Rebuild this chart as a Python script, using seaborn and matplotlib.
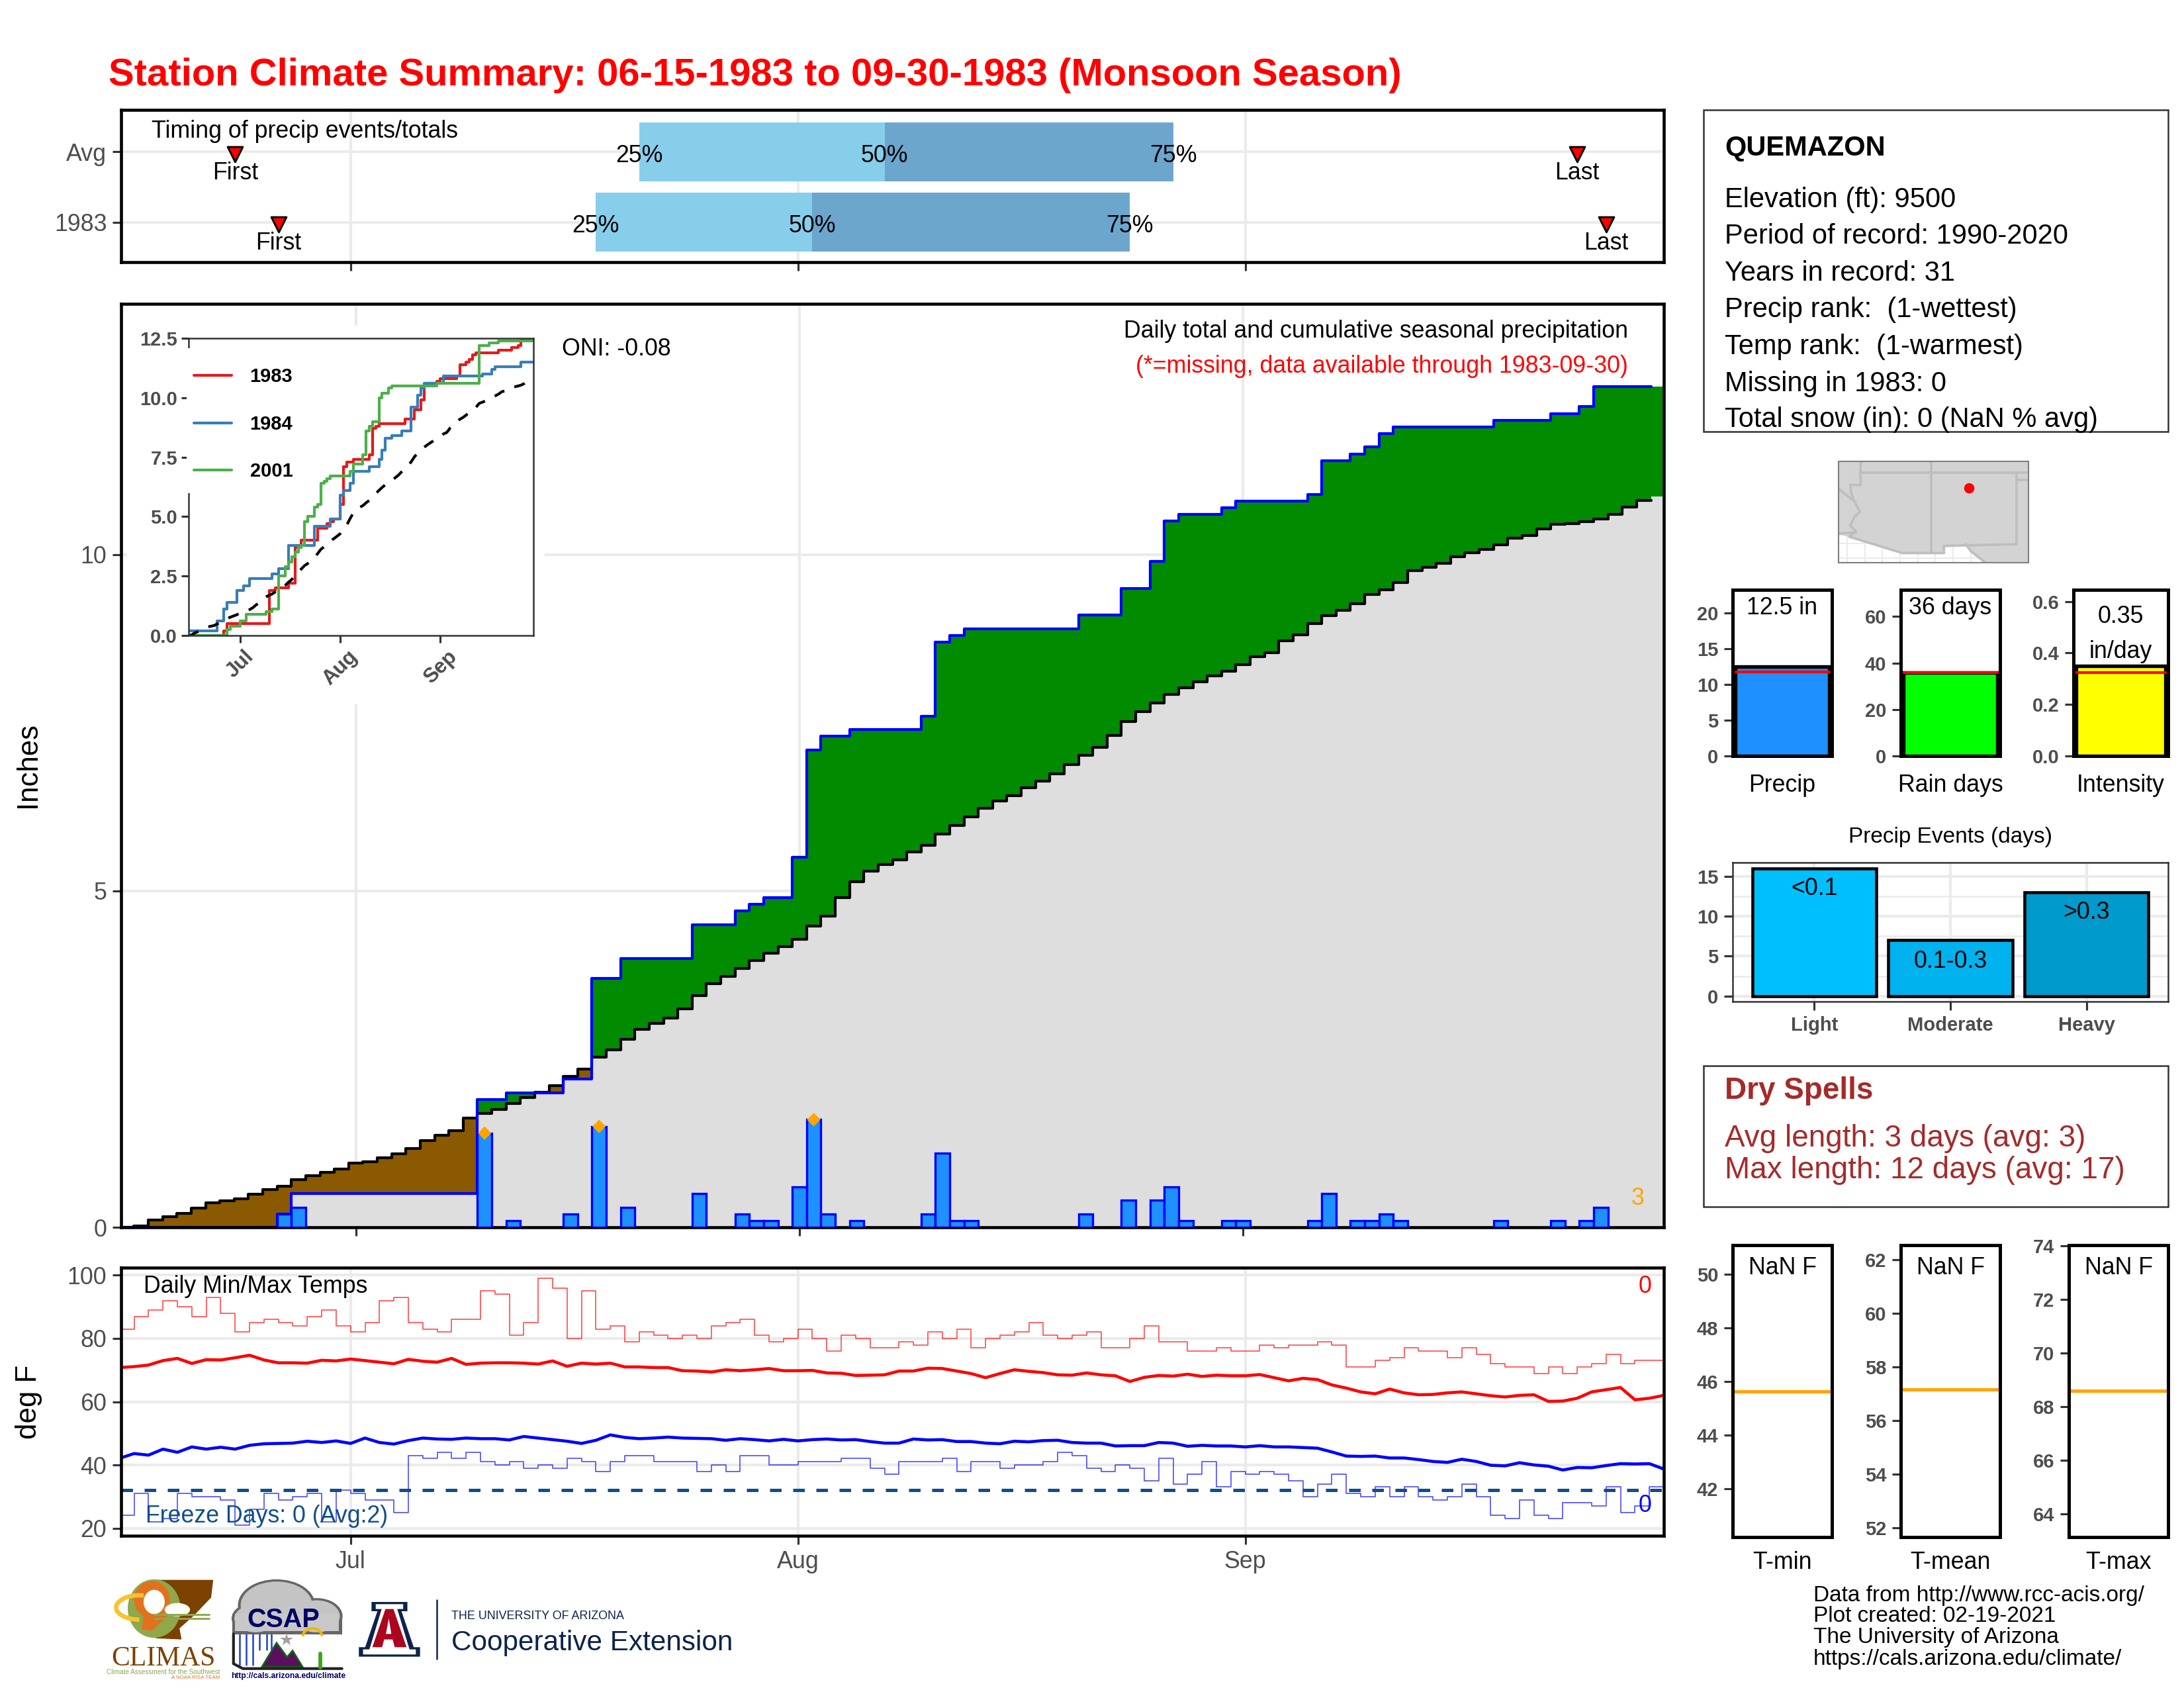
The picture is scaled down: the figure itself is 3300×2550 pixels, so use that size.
import numpy as np
import matplotlib
matplotlib.use('Agg')
import matplotlib.pyplot as plt
from matplotlib.patches import Rectangle, Polygon, Ellipse, Arc
import seaborn as sns

W, H = 3300, 2550

# day index: 0 = Jun 15, 16 = Jul 1, 47 = Aug 1, 78 = Sep 1, 107 = Sep 30
month_days = [16, 47, 78]
month_names = ['Jul', 'Aug', 'Sep']
days = np.arange(108)

# daily precip for 1983
rain_day = [11, 12, 25, 27, 31, 33, 35, 40, 43, 44, 45, 47, 48, 49, 51, 56, 57, 58, 59, 67, 70, 72, 73, 74,
            77, 78, 83, 84, 86, 87, 88, 89, 96, 100, 102, 103]
rain_amt = [0.2, 0.3, 1.4, 0.1, 0.2, 1.5, 0.3, 0.5, 0.2, 0.1, 0.1, 0.6, 1.6, 0.2, 0.1, 0.2, 1.1, 0.1, 0.1, 0.2,
            0.4, 0.4, 0.6, 0.1, 0.1, 0.1, 0.1, 0.5, 0.1, 0.1, 0.2, 0.1, 0.1, 0.1, 0.1, 0.3]
heavy_day = [25, 33, 48]
heavy_amt = [1.4, 1.5, 1.6]

# long term average cumulative precip, one value per day
avg_cum = [0.0, 0.02, 0.11, 0.16, 0.21, 0.29, 0.36, 0.39, 0.42, 0.49, 0.56, 0.61, 0.71, 0.77, 0.82, 0.87, 0.95, 0.97,
           1.03, 1.09, 1.17, 1.29, 1.37, 1.44, 1.62, 1.69, 1.75, 1.84, 1.93, 2.01, 2.11, 2.24, 2.35, 2.53, 2.64, 2.80,
           2.94, 3.03, 3.11, 3.25, 3.44, 3.62, 3.73, 3.85, 3.97, 4.07, 4.17, 4.28, 4.48, 4.63, 4.90, 5.14, 5.30, 5.39,
           5.46, 5.58, 5.68, 5.85, 5.97, 6.10, 6.23, 6.34, 6.42, 6.54, 6.63, 6.74, 6.88, 7.02, 7.14, 7.31, 7.52, 7.67,
           7.80, 7.92, 8.02, 8.11, 8.20, 8.27, 8.37, 8.48, 8.54, 8.72, 8.81, 8.98, 9.09, 9.17, 9.27, 9.41, 9.48, 9.59,
           9.76, 9.81, 9.87, 9.97, 10.03, 10.08, 10.15, 10.25, 10.29, 10.38, 10.45, 10.46, 10.49, 10.53, 10.60, 10.71,
           10.81, 10.87]

# other years in the inset
y1984_day = [0, 9, 11, 12, 15, 17, 19, 26, 28, 31, 39, 44, 47, 48, 50, 51, 56, 59, 60, 61, 63, 66, 69, 71, 72, 73,
             79, 91, 94, 95, 103, 107]
y1984_val = [0.2, 0.6, 1.1, 1.4, 1.9, 2.1, 2.4, 2.6, 2.8, 3.8, 4.6, 4.9, 5.9, 6.1, 6.4, 6.9, 7.1, 7.4, 7.8, 8.3, 8.4,
             8.6, 9.6, 10.1, 10.4, 10.6, 10.9, 11.0, 11.2, 11.3, 11.5, 11.5]
y2001_day = [0, 12, 13, 16, 18, 24, 26, 28, 30, 31, 32, 33, 34, 35, 36, 37, 39, 40, 41, 42, 43, 44, 50, 51, 54, 55,
             56, 57, 59, 60, 62, 63, 77, 90, 93, 96, 107]
y2001_val = [0.0, 0.25, 0.4, 0.6, 0.9, 1.0, 1.1, 2.5, 2.9, 3.1, 3.3, 3.5, 3.7, 3.8, 4.8, 5.0, 5.4, 5.5, 6.4, 6.5, 6.6,
             6.7, 6.9, 7.2, 7.6, 8.6, 8.8, 9.0, 10.0, 10.2, 10.4, 10.5, 10.6, 12.2, 12.3, 12.4, 12.4]

# daily temps 1983
tmax_obs = [83, 87, 89, 92, 90, 87, 93, 88, 82, 85, 86, 85, 84, 87, 89, 84, 82, 85, 92, 93, 85, 83, 82, 86, 86, 95, 94,
            81, 85, 99, 96, 80, 95, 83, 84, 79, 82, 81, 80, 81, 80, 84, 85, 86, 81, 79, 80, 83, 80, 76, 81, 80, 77, 77,
            79, 78, 82, 80, 83, 77, 80, 81, 82, 85, 81, 80, 81, 82, 77, 77, 80, 84, 79, 79, 76, 76, 77, 76, 76, 78, 77,
            78, 78, 79, 78, 71, 71, 73, 74, 77, 76, 76, 74, 77, 75, 72, 71, 71, 69, 71, 69, 71, 72, 75, 72, 73, 73]
tmin_obs = [24, 31, 22, 23, 31, 30, 30, 29, 21, 26, 31, 29, 30, 31, 22, 32, 31, 29, 29, 25, 43, 42, 44, 42, 44, 41, 40,
            41, 39, 40, 39, 42, 41, 38, 41, 43, 43, 41, 41, 41, 38, 40, 38, 43, 43, 40, 40, 41, 41, 41, 42, 42, 39, 37,
            41, 41, 41, 42, 38, 41, 41, 39, 40, 40, 41, 44, 43, 39, 38, 40, 39, 35, 42, 34, 37, 41, 33, 38, 37, 38, 37,
            35, 30, 34, 37, 31, 30, 33, 30, 33, 30, 29, 30, 34, 30, 24, 23, 29, 24, 23, 28, 28, 27, 33, 25, 27, 33]
# average temps
tmax_avg = [70.8, 71.1, 71.6, 73, 73.7, 72.1, 73.3, 73.2, 73.9, 74.7, 73.2, 72.3, 72.3, 72.2, 73.1, 72.9, 73.5, 73,
            72.5, 72, 73.4, 72.8, 72.5, 73.7, 71.8, 72.2, 72.3, 72.3, 72.2, 71.9, 72.9, 71.2, 72.2, 71.9, 72.2, 71, 71,
            70.8, 70.8, 69.8, 69.7, 69.4, 70.1, 69.8, 70.1, 70.5, 69.8, 69.8, 69.9, 69.1, 69, 68.3, 68.4, 68.5, 69.7,
            69.7, 70.6, 70.5, 69.7, 68.9, 67.6, 68.9, 70.1, 69.6, 69.2, 68.5, 68.4, 69.1, 68.5, 68.2, 66.4, 67.7, 68.3,
            68.1, 68.7, 68, 68.4, 68.2, 68.2, 68.6, 67.6, 66.6, 67.4, 67, 65.3, 64.3, 63.1, 62.5, 64, 62.8, 62.2, 62.3,
            62.8, 63.1, 62.5, 61.9, 61.5, 62, 62.2, 60.1, 60.2, 61.1, 63.1, 63.8, 64.5, 60.6, 61.1, 62]
tmin_avg = [42.1, 43.6, 43.1, 45, 44, 45.7, 45, 45.6, 45, 46.2, 46.7, 46.8, 46.9, 47.5, 47.1, 47.6, 46.8, 48.5, 47.1,
            46.6, 47.7, 48.5, 48.2, 48.1, 48.5, 48.3, 48.3, 47.9, 49, 48.5, 48, 47.5, 46.8, 47.8, 49.5, 48.7, 48.3, 48.5,
            48.8, 48.5, 48.4, 48.3, 47.8, 48.3, 48, 47.6, 48.1, 47.6, 48, 48.2, 47.9, 48, 47.4, 46.9, 46.9, 48.2, 47.9,
            48, 47.4, 47.4, 46.9, 46.7, 47.5, 47.3, 47.7, 47.8, 47.1, 46.9, 46.9, 46, 46.1, 46.1, 47.1, 46.9, 45.9, 46.2,
            46, 46, 45.7, 46.1, 45.7, 45.7, 45.5, 45.3, 44.1, 42.8, 42.7, 42.8, 42.2, 42.2, 41.7, 41.1, 40.8, 41.8, 41.1,
            39.9, 39.7, 40.7, 40, 39.6, 38.4, 39.2, 39.1, 39.8, 40.4, 40.3, 40.4, 38.7]
temp_ticks = [20, 40, 60, 80, 100]
freeze_line = 32

# timing panel
timing_rows = ['Avg', '1983']
q25 = [36, 33]
q50 = [53, 48]
q75 = [73, 70]
first_day = [8, 11]
last_day = [101, 103]

# right hand bars
season_names = ['Precip', 'Rain days', 'Intensity']
season_vals = [12.5, 36, 0.35]
season_avgs = [11.7, 36, 0.325]
season_colors = ['#1E90FF', '#00FF00', '#FFFF00']
event_names = ['Light', 'Moderate', 'Heavy']
event_vals = [16, 7, 13]
event_colors = ['#00BFFF', '#00B2EE', '#009ACD']
event_tags = ['<0.1', '0.1-0.3', '>0.3']
temp_names = ['T-min', 'T-mean', 'T-max']
temp_avgs = [45.62, 57.16, 68.6]

# location map outlines, lon/lat
land_lon = [-115.6, -114.83, -111.09, -108.14, -108.14, -106.6, -106.22, -105.2, -102.16, -102.16, -115.6]
land_lat = [32.62, 32.48, 31.33, 31.33, 31.83, 31.87, 31.45, 30.65, 30.65, 37.8, 37.8]
map_borders = [
    ([-114.04, -102.16], [37.0, 37.0]),
    ([-114.04, -114.04, -114.76, -114.72, -114.54, -114.08, -114.49, -114.76, -114.38, -114.83],
     [37.8, 36.12, 36.15, 35.62, 35.08, 34.25, 33.87, 33.28, 32.87, 32.48]),
    ([-115.6, -114.54], [35.87, 35.03]),
    ([-115.6, -114.38], [32.7, 32.78]),
    ([-114.83, -111.09, -108.14, -108.14, -106.6, -103.0], [32.48, 31.33, 31.33, 31.83, 31.87, 31.95]),
    ([-109.05, -109.05], [37.8, 31.33]),
    ([-103.0, -103.0], [37.0, 31.95]),
    ([-103.0, -102.16], [36.5, 36.5]),
    ([-106.6, -106.22, -105.2], [31.95, 31.45, 30.65]),
]
station_lon = [-106.35]
station_lat = [35.9]

sns.set_theme(style='white')
plt.rcParams['font.family'] = ['Liberation Sans', 'DejaVu Sans']
plt.rcParams['axes.unicode_minus'] = False

fig = plt.figure(figsize=(11, 8.5), dpi=300, facecolor='white')
GRID = '#EBEBEB'
TXT = 8.6
VC = 'center_baseline'


def panel(x0, y0, x1, y1, lw=1.1, edge='black'):
    ax = fig.add_axes([x0 / W, 1 - y1 / H, (x1 - x0) / W, (y1 - y0) / H])
    for s in ax.spines.values():
        s.set_visible(True)
        s.set_linewidth(lw)
        s.set_color(edge)
    ax.set_facecolor('white')
    ax.set_axisbelow(True)
    ax.tick_params(length=3.2, width=0.75, color='#333333', labelcolor='#4D4D4D', labelsize=TXT, pad=2,
                   left=True, bottom=True)
    return ax


def step_xy(d, v):
    d = np.asarray(d, dtype=float)
    v = np.asarray(v, dtype=float)
    return np.append(d - 0.5, d[-1] + 0.5), np.append(v, v[-1])


daily = np.zeros(108)
daily[rain_day] = rain_amt
obs_cum = np.cumsum(daily)
avg_arr = np.array(avg_cum)

# ---- timing panel
ax = panel(183, 166, 2514, 396)
ax.grid(True, color=GRID, lw=1.0)
rows = np.arange(2)
ax.barh(rows, np.array(q50) - np.array(q25), left=q25, height=0.835, color='#87CEEB', edgecolor='none', lw=0)
ax.barh(rows, np.array(q75) - np.array(q50), left=q50, height=0.835, color='#6CA6CD', edgecolor='none', lw=0)
sns.scatterplot(x=first_day + last_day, y=[0.03, 1.03, 0.03, 1.03], marker='v', color='red', edgecolor='black',
                linewidth=0.7, s=30, ax=ax, zorder=4, legend=False)
for i in rows:
    for q, lab in zip((q25, q50, q75), ('25%', '50%', '75%')):
        ax.text(q[i], i + 0.02, lab, ha='center', va=VC, fontsize=TXT, color='black')
    ax.text(first_day[i], i + 0.26, 'First', ha='center', va=VC, fontsize=TXT, color='black')
    ax.text(last_day[i], i + 0.26, 'Last', ha='center', va=VC, fontsize=TXT, color='black')
ax.text(2.2, -0.33, 'Timing of precip events/totals', ha='left', va=VC, fontsize=TXT, color='black')
ax.set_xlim(0.1, 107)
ax.set_ylim(1.565, -0.595)
ax.set_xticks(month_days)
ax.set_xticklabels([])
ax.set_yticks(rows)
ax.set_yticklabels(timing_rows)

# ---- main panel
ax = panel(183, 459, 2514, 1854)
edges = np.append(days - 0.5, days[-1] + 0.5)
xf = np.repeat(edges, 2)[1:-1]
obs_f = np.repeat(obs_cum, 2)
avg_f = np.repeat(avg_arr, 2)
ax.fill_between(xf, 0, np.minimum(obs_f, avg_f), color='#DEDEDE', lw=0)
ax.fill_between(xf, avg_f, np.maximum(obs_f, avg_f), color='#008B00', lw=0)
ax.fill_between(xf, obs_f, np.maximum(obs_f, avg_f), color='#8B5A00', lw=0, where=avg_f > obs_f)
sx, sy = step_xy(days[:107], avg_arr[:107])
sns.lineplot(x=sx, y=sy, drawstyle='steps-post', color='black', lw=1.0, estimator=None, ax=ax)
sx, sy = step_xy(days[:107], obs_cum[:107])
sns.lineplot(x=sx, y=sy, drawstyle='steps-post', color='blue', lw=1.0, estimator=None, ax=ax)
sns.barplot(x=rain_day, y=rain_amt, native_scale=True, width=1.0, color='#1E90FF', saturation=1, edgecolor='blue',
            linewidth=0.8, errorbar=None, ax=ax, zorder=3)
sns.scatterplot(x=heavy_day, y=heavy_amt, marker='D', color='orange', edgecolor='none', s=12, ax=ax, zorder=5,
                legend=False)
ax.text(105.6, 0.47, '3', color='orange', fontsize=TXT, ha='center', va=VC)
ax.text(30.4, 13.1, 'ONI: -0.08', color='black', fontsize=TXT, ha='left', va=VC)
ax.text(104.9, 13.36, 'Daily total and cumulative seasonal precipitation', color='black', fontsize=TXT, ha='right',
        va=VC)
ax.text(104.9, 12.84, '(*=missing, data available through 1983-09-30)', color='red', fontsize=TXT, ha='right', va=VC)
ax.set_xlim(-0.4, 107.4)
ax.set_ylim(0, 13.73)
ax.set_xticks(month_days)
ax.set_xticklabels([])
ax.set_yticks([0, 5, 10])
ax.set_yticklabels(['0', '5', '10'])
ax.grid(True, color=GRID, lw=1.0)
ax.set_xlabel('')
ax.set_ylabel('')

# ---- white backing and inset
back = fig.add_axes([192 / W, 1 - 1064 / H, (823 - 192) / W, (1064 - 492) / H])
back.set_facecolor('white')
back.set_xticks([])
back.set_yticks([])
for s in back.spines.values():
    s.set_visible(False)

ins = panel(285, 511, 806, 960, lw=0.6, edge='#333333')
sns.lineplot(x=days, y=obs_cum, drawstyle='steps-post', color='#E41A1C', lw=1.0, label='1983', estimator=None, ax=ins)
sns.lineplot(x=y1984_day, y=y1984_val, drawstyle='steps-post', color='#377EB8', lw=1.0, label='1984', estimator=None,
             ax=ins)
sns.lineplot(x=y2001_day, y=y2001_val, drawstyle='steps-post', color='#4DAF4A', lw=1.0, label='2001', estimator=None,
             ax=ins)
sns.lineplot(x=days, y=avg_arr, color='black', lw=1.0, linestyle=(0, (4, 4)), estimator=None, ax=ins)
ins.set_xlim(0.1, 106.8)
ins.set_ylim(0, 12.5)
ins.set_xticks(month_days)
ins.set_xticklabels(month_names, rotation=45, ha='center', fontweight='bold', fontsize=7.5)
ins.set_yticks([0, 2.5, 5, 7.5, 10, 12.5])
ins.set_yticklabels(['0.0', '2.5', '5.0', '7.5', '10.0', '12.5'], fontweight='bold', fontsize=7)
ins.tick_params(length=2.6, pad=1.5)
ins.set_xlabel('')
ins.set_ylabel('')
ins.add_patch(Rectangle((-0.006, 0.479), 0.012, 0.488, transform=ins.transAxes, facecolor='white', edgecolor='none',
                        zorder=4, clip_on=False))
leg = ins.legend(loc='upper left', bbox_to_anchor=((293 - 285) / 521, 1 - (555 - 511) / 449), frameon=False,
                 borderaxespad=0, borderpad=0, fontsize=7, labelspacing=1.5, handlelength=1.95, handletextpad=0.95,
                 prop={'weight': 'bold', 'size': 7})
for t in leg.get_texts():
    t.set_color('black')

# ---- temp panel
ax = panel(183, 1915, 2514, 2320)
ax.grid(True, color=GRID, lw=1.0)
thin_x = np.arange(108)
sns.lineplot(x=thin_x, y=tmax_obs + [tmax_obs[-1]], drawstyle='steps-post', color='red', lw=0.4, alpha=0.7,
             estimator=None, ax=ax)
sns.lineplot(x=thin_x, y=tmin_obs + [tmin_obs[-1]], drawstyle='steps-post', color='blue', lw=0.4, alpha=0.7,
             estimator=None, ax=ax)
sns.lineplot(x=days, y=tmax_avg, color='red', lw=1.1, estimator=None, ax=ax)
sns.lineplot(x=days, y=tmin_avg, color='blue', lw=1.1, estimator=None, ax=ax)
ax.axhline(freeze_line, color='#104E8B', lw=1.2, linestyle=(0, (3.5, 3.5)))
ax.text(1.65, 97.3, 'Daily Min/Max Temps', fontsize=TXT, color='black', ha='left', va=VC)
ax.text(1.8, 24.7, 'Freeze Days: 0 (Avg:2)', fontsize=TXT, color='#104E8B', ha='left', va=VC)
ax.text(105.7, 97.3, '0', fontsize=TXT, color='red', ha='center', va=VC)
ax.text(105.7, 28, '0', fontsize=TXT, color='blue', ha='center', va=VC)
ax.set_xlim(0.1, 107)
ax.set_ylim(17.6, 102.4)
ax.set_xticks(month_days)
ax.set_xticklabels(month_names)
ax.set_yticks(temp_ticks)
ax.set_xlabel('')
ax.set_ylabel('')

# ---- location map
mp = panel(2778, 697, 3065, 850, lw=0.5, edge='#7F7F7F')
mp.set_xticks(np.arange(-115, -102, 1.25))
mp.set_yticks([31, 32])
mp.grid(True, color=GRID, lw=0.5)
mp.tick_params(length=0, labelbottom=False, labelleft=False, bottom=False, left=False)
mp.fill(land_lon, land_lat, color='#D3D3D3', lw=0)
for bx, by in map_borders:
    mp.plot(bx, by, color='#BEBEBE', lw=0.9)
sns.scatterplot(x=station_lon, y=station_lat, color='red', edgecolor='none', s=14, ax=mp, legend=False, zorder=5)
mp.set_xlim(-115.6, -102.16)
mp.set_ylim(30.65, 37.8)

# ---- seasonal bars
season_boxes = [(2618, 2768), (2872, 3022), (3133, 3276)]
season_ylim = [(0, 23.2), (0, 71.5), (0, 0.645)]
season_ticks = [[0, 5, 10, 15, 20], [0, 20, 40, 60], [0.0, 0.2, 0.4, 0.6]]
season_ticklabels = [['0', '5', '10', '15', '20'], ['0', '20', '40', '60'], ['0.0', '0.2', '0.4', '0.6']]
season_tags = [[('12.5 in', 21.0)], [('36 days', 64.7)], [('0.35', 0.55), ('in/day', 0.416)]]
for i in range(3):
    ax = panel(season_boxes[i][0], 891, season_boxes[i][1], 1142, lw=1.2)
    sns.barplot(x=[season_names[i]], y=[season_vals[i]], color=season_colors[i], saturation=1, width=0.95,
                edgecolor='black', linewidth=1.3, errorbar=None, ax=ax)
    ax.axhline(season_avgs[i], xmin=0.03, xmax=0.97, color='red', lw=1.0)
    for tag, yy in season_tags[i]:
        ax.text(0, yy, tag, fontsize=TXT, ha='center', va=VC, color='black')
    ax.set_xlim(-0.5, 0.5)
    ax.set_ylim(season_ylim[i])
    ax.set_xticks([])
    ax.set_yticks(season_ticks[i])
    ax.set_yticklabels(season_ticklabels[i], fontweight='bold', fontsize=7)
    ax.set_xlabel('')
    ax.set_ylabel('')

# ---- precip events
ax = panel(2618, 1303, 3276, 1513, lw=0.6, edge='#333333')
sns.barplot(x=event_names, y=event_vals, hue=event_names, palette=event_colors, saturation=1, width=0.91,
            edgecolor='black', linewidth=1.1, legend=False, errorbar=None, ax=ax)
for i, (tag, yy) in enumerate(zip(event_tags, [13.8, 4.7, 10.8])):
    ax.text(i, yy, tag, fontsize=TXT, ha='center', va=VC, color='black')
ax.set_xlim(-0.6, 2.6)
ax.set_ylim(-0.7, 16.76)
ax.set_yticks([0, 5, 10, 15])
ax.set_yticklabels(['0', '5', '10', '15'], fontweight='bold', fontsize=7)
ax.set_yticks([2.5, 7.5, 12.5], minor=True)
ax.set_xticks([0, 1, 2])
ax.set_xticklabels(event_names, fontweight='bold', fontsize=7)
ax.grid(True, which='major', color=GRID, lw=1.0)
ax.grid(True, which='minor', axis='y', color=GRID, lw=0.6)
ax.tick_params(axis='y', which='minor', length=0)
ax.tick_params(axis='x', pad=2)
ax.set_xlabel('')
ax.set_ylabel('')

# ---- temperature boxes
temp_boxes = [(2618, 2768), (2872, 3022), (3126, 3276)]
temp_ylims = [(40.2, 51.08), (51.65, 62.55), (63.14, 74.03)]
temp_yticks = [[42, 44, 46, 48, 50], [52, 54, 56, 58, 60, 62], [64, 66, 68, 70, 72, 74]]
for i in range(3):
    ax = panel(temp_boxes[i][0], 1881, temp_boxes[i][1], 2322, lw=1.2)
    ax.axhline(temp_avgs[i], color='orange', lw=1.2)
    ax.text(0.5, 0.93, 'NaN F', transform=ax.transAxes, fontsize=TXT, ha='center', va=VC, color='black')
    ax.set_ylim(temp_ylims[i])
    ax.set_xticks([])
    ax.set_yticks(temp_yticks[i])
    ax.set_yticklabels([str(v) for v in temp_yticks[i]], fontweight='bold', fontsize=7)

# ---- overlay in pixel coordinates for boxes, free text and logos
ov = fig.add_axes([0, 0, 1, 1], zorder=20)
ov.set_xlim(0, W)
ov.set_ylim(H, 0)
ov.axis('off')
ov.patch.set_alpha(0)

ov.text(164, 108, 'Station Climate Summary: 06-15-1983 to 09-30-1983 (Monsoon Season)', color='red', fontsize=13.92,
        fontweight='bold', ha='left', va=VC)
ov.text(42, 1155, 'Inches', fontsize=10.5, rotation=90, ha='center', va='center', color='black')
ov.text(43, 2118, 'deg F', fontsize=10.5, rotation=90, ha='center', va='center', color='black')

# station box
ov.add_patch(Rectangle((2574, 166), 702, 486, facecolor='none', edgecolor='#333333', lw=0.6))
ov.text(2606, 220, 'QUEMAZON', fontsize=10, fontweight='bold', ha='left', va=VC, color='black')
info_lines = ['Elevation (ft): 9500', 'Period of record: 1990-2020', 'Years in record: 31',
              'Precip rank:  (1-wettest)', 'Temp rank:  (1-warmest)', 'Missing in 1983: 0',
              'Total snow (in): 0 (NaN % avg)']
for line, yy in zip(info_lines, [297, 353, 408, 464, 520, 575, 630]):
    ov.text(2606, yy, line, fontsize=10, ha='left', va=VC, color='black')

# labels under the small panels
for name, (x0, x1) in zip(season_names, season_boxes):
    ov.text((x0 + x1) / 2, 1182, name, fontsize=TXT, ha='center', va=VC, color='black')
for name, (x0, x1) in zip(temp_names, temp_boxes):
    ov.text((x0 + x1) / 2, 2357, name, fontsize=TXT, ha='center', va=VC, color='black')
ov.text(2947, 1261, 'Precip Events (days)', fontsize=8, ha='center', va=VC, color='black')

# dry spells
BROWN = '#A52A2A'
ov.add_patch(Rectangle((2574, 1610), 702, 213, facecolor='none', edgecolor='#333333', lw=0.6))
ov.text(2606, 1643, 'Dry Spells', fontsize=11, fontweight='bold', ha='left', va=VC, color=BROWN)
ov.text(2606, 1715, 'Avg length: 3 days (avg: 3)', fontsize=11, ha='left', va=VC, color=BROWN)
ov.text(2606, 1763, 'Max length: 12 days (avg: 17)', fontsize=11, ha='left', va=VC, color=BROWN)

# footer
foot_lines = ['Data from http://www.rcc-acis.org/', 'Plot created: 02-19-2021', 'The University of Arizona',
              'https://cals.arizona.edu/climate/']
for line, yy in zip(foot_lines, [2407, 2438, 2470, 2503]):
    ov.text(2740, yy, line, fontsize=8, ha='left', va=VC, color='black')


# logos, laid out from the crop coordinates
def lx(v):
    return 150 + v / 1.568


def ly(v):
    return 2360 + v / 3


def poly(pts, **kw):
    ov.add_patch(Polygon([(lx(a), ly(b)) for a, b in pts], closed=True, **kw))


def ell(cx, cy, w, h, **kw):
    ov.add_patch(Ellipse((lx(cx), ly(cy)), w / 1.568, h / 3, **kw))


# CLIMAS
poly([(130, 80), (270, 80), (265, 160), (225, 240), (190, 300), (195, 350), (135, 345), (100, 300)],
     facecolor='#7A4100', edgecolor='none')
ell(130, 210, 125, 265, facecolor='#8FA84A', edgecolor='none')
ell(125, 170, 85, 170, facecolor='#E2711D', edgecolor='none')
ell(130, 180, 50, 110, facecolor='white', edgecolor='none')
ell(185, 215, 60, 60, facecolor='white', edgecolor='none')
ov.add_patch(Arc((lx(95), ly(205)), 110 / 1.568, 110 / 3, theta1=90, theta2=290, color='#F7C331', lw=1.6))
poly([(105, 240), (165, 240), (125, 310), (100, 305)], facecolor='#E2711D', edgecolor='none')
ov.plot([lx(130), lx(260)], [ly(238), ly(238)], color='#8FA84A', lw=0.7)
ov.plot([lx(130), lx(260)], [ly(255), ly(255)], color='#8FA84A', lw=0.7)
ov.text(lx(152), ly(425), 'CLIMAS', family=['Liberation Serif'], fontsize=10, color='#7A4100', ha='center', va=VC)
ov.text(lx(152), ly(496), 'Climate Assessment for the Southwest', fontsize=2.4, color='#8FA84A', ha='center', va=VC)
ov.text(lx(228), ly(522), 'A NOAA RISA TEAM', fontsize=1.9, color='#E2711D', ha='center', va=VC)

# CSAP
for cx, cy, w, h in [(420, 195, 175, 220), (370, 255, 105, 130), (515, 245, 115, 150)]:
    ell(cx, cy, w, h, facecolor='#C4C4C4', edgecolor='#666666', lw=1.2)
ov.add_patch(Rectangle((lx(318), ly(240)), 252 / 1.568, 78 / 3, facecolor='#C4C4C4', edgecolor='#666666', lw=1.2))
for cx, cy, w, h in [(420, 195, 170, 215), (370, 255, 100, 125), (515, 245, 110, 145)]:
    ell(cx, cy, w, h, facecolor='#C4C4C4', edgecolor='none')
ov.add_patch(Rectangle((lx(322), ly(235)), 244 / 1.568, 78 / 3, facecolor='#C8C8C8', edgecolor='none'))
ov.text(lx(437), ly(250), 'CSAP', fontsize=9.5, fontweight='bold', color='#000066', ha='center', va=VC)
for rx in [332, 348, 364, 380, 396, 408]:
    ov.plot([lx(rx), lx(rx)], [ly(328), ly(465 if rx < 380 else 395)], color='#1F3FD0', lw=0.6)
ov.plot([lx(318), lx(318), lx(340), lx(575)], [ly(325), ly(460), ly(482), ly(482)], color='#222222', lw=1.0)
poly([(385, 475), (420, 365), (445, 430), (458, 400), (482, 475)], facecolor='#5B0F5F', edgecolor='#0B6B0B', lw=0.6)
ov.plot([lx(443)], [ly(352)], marker='*', color='#A0A0A0', ms=5, mew=0)
ov.add_patch(Arc((lx(505), ly(335)), 45 / 1.568, 70 / 3, theta1=180, theta2=360, color='#F2B705', lw=1.0))
ov.plot([lx(523), lx(523)], [ly(415), ly(478)], color='#3FA31A', lw=1.4)
ov.text(lx(448), ly(512), 'http://cals.arizona.edu/climate', fontsize=2.9, fontweight='bold', color='#000066',
        ha='center', va=VC)

# University of Arizona block A
poly([(645, 180), (730, 180), (730, 222), (716, 222), (745, 385), (760, 385), (760, 428), (615, 428), (615, 385),
      (630, 385), (659, 222), (645, 222)], facecolor='#0C234B', edgecolor='none')
poly([(655, 190), (720, 190), (720, 212), (706, 212), (735, 395), (750, 395), (750, 418), (625, 418), (625, 395),
      (640, 395), (669, 212), (655, 212)], facecolor='white', edgecolor='none')
poly([(678, 212), (697, 212), (728, 385), (700, 385), (695, 350), (675, 350), (670, 385), (647, 385)],
     facecolor='#AB0520', edgecolor='none')
poly([(686, 255), (692, 325), (679, 325)], facecolor='white', edgecolor='none')
ov.plot([660, 660], [2417, 2506], color='#0C234B', lw=0.6)
ov.text(682, 2440, 'THE UNIVERSITY OF ARIZONA', fontsize=4.3, color='#0C234B', ha='left', va=VC)
ov.text(682, 2477, 'Cooperative Extension', fontsize=10.15, color='#0C234B', ha='left', va=VC)

fig.savefig('out.png', dpi=300, facecolor='white')
